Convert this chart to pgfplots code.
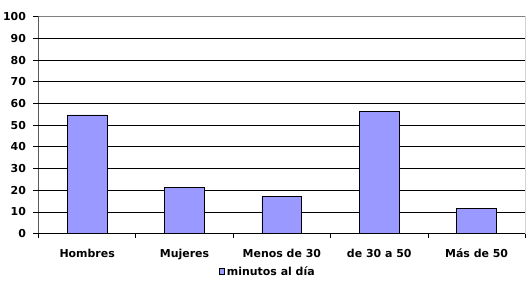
\documentclass[border=0pt]{standalone}
\usepackage{pgfplots}
\pgfplotsset{compat=1.18}
\usepackage{fontspec}
\setmainfont{DejaVu Sans}
\definecolor{barblue}{HTML}{9999FF}
\definecolor{bordergray}{HTML}{808080}
\begin{document}
\begin{tikzpicture}
\begin{axis}[name=ax,
  scale only axis, width=487bp, height=217bp,
  ymin=0, ymax=100, ytick={0,10,...,100},
  xmin=-0.5, xmax=4.5, xtick={0,...,4},
  xticklabels={Hombres,Mujeres,Menos de 30,de 30 a 50,Más de 50},
  major x tick style={draw=none},
  minor xtick={-0.5,0.5,...,4.5},
  tick align=outside, major tick length=5bp, minor tick length=4bp,
  tick style={black, line width=0.8pt},
  tick pos=left,
  ymajorgrids, grid style={black, line width=0.8pt},
  axis line style={draw=none},
  /pgf/number format/assume math mode=true,
  ticklabel style={font=\fontsize{11}{13}\selectfont\bfseries},
  yticklabel style={xshift=-4bp},
  xticklabel style={yshift=-7bp},
  legend style={at={(0.471,-0.175)}, anchor=center, draw=none,
    font=\fontsize{11}{13}\selectfont\bfseries, inner sep=0pt},
  legend image code/.code={\draw[fill=barblue,draw=black,line width=0.6pt] (-3bp,-2.8bp) rectangle (2.5bp,2.8bp);},
]
\addplot[ybar, bar width=40bp, fill=barblue, draw=black, line width=0.8pt]
  coordinates {(0,54.7) (1,21.1) (2,17.0) (3,56.5) (4,11.5)};
\addlegendentry{minutos al día}
\draw[bordergray, line width=0.8pt] (rel axis cs:0,1) -- (rel axis cs:1,1) -- (rel axis cs:1,0);
\draw[black, line width=0.8pt] (rel axis cs:0,1) -- (rel axis cs:0,0) -- (rel axis cs:1,0);
\end{axis}
\pgfresetboundingbox
\path[use as bounding box] ([xshift=-38.5bp,yshift=-54.7bp]ax.south west) rectangle ([xshift=4.7bp,yshift=16.7bp]ax.north east);
\end{tikzpicture}
\end{document}
